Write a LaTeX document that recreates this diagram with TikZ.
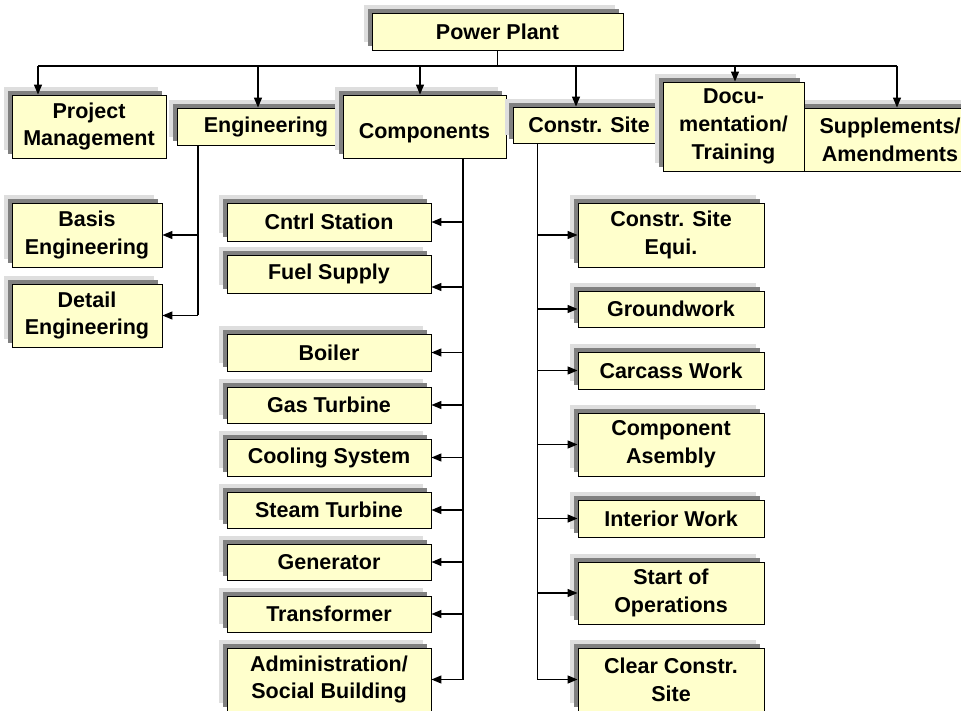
\documentclass[tikz,border=0pt]{standalone}
\usepackage{fontspec}
\setmainfont{Liberation Sans}
\usetikzlibrary{arrows.meta,shadows}

\definecolor{boxfill}{RGB}{255,255,204}
\definecolor{shadowdark}{RGB}{128,128,128}
\definecolor{shadowlight}{RGB}{222,222,222}

\tikzset{
  wbsbox/.style={rectangle, draw=black, line width=0.9pt, fill=boxfill, inner sep=0pt, align=center,
    font=\fontsize{21.5}{27.7}\selectfont\bfseries,
    general shadow={fill=shadowlight, shadow xshift=-8pt, shadow yshift=8pt},
    general shadow={fill=shadowdark, shadow xshift=-4pt, shadow yshift=4pt}},
  arr/.style={-{Triangle[length=10pt,width=8pt]}, line width=1.3pt},
  trunk/.style={line width=1.3pt}
}

\begin{document}
\begin{tikzpicture}[x=1pt,y=-1pt]
  \useasboundingbox (0,0) rectangle (961,711);
  \clip (0,0) rectangle (961,711);

  % top level
  \node[wbsbox, minimum width=251pt, minimum height=37pt] (plant) at (497.5,31.5) {Power Plant};
  \node[wbsbox, minimum width=154pt, minimum height=63pt] (pm) at (89,126.5) {Project\\Management};
  \node[wbsbox, minimum width=178pt, minimum height=37pt] (eng) at (266,126.5) {Engineering};
  \node[wbsbox, minimum width=163pt, minimum height=63pt] (comp) at (424.5,126.5) {\mbox{}\\Components};
  \node[wbsbox, minimum width=152pt, minimum height=36pt] (site) at (589,125) {Constr. Site};
  \node[wbsbox, minimum width=181pt, minimum height=63pt] (supp) at (890,139.5) {Supplements/\\Amendments};
  \node[wbsbox, minimum width=141pt, minimum height=89pt] (doc) at (733.5,126.5) {Docu-\\mentation/\\Training};

  \draw[trunk] (plant.south) -- (497.5,66);
  \draw[trunk] (38,66) -- (897,66);
  \draw[arr] (38,66) -- (38,0 |- pm.north);
  \draw[arr] (258,66) -- (258,0 |- eng.north);
  \draw[arr] (420,66) -- (420,0 |- comp.north);
  \draw[arr] (576,66) -- (576,0 |- site.north);
  \draw[arr] (735,66) -- (735,0 |- doc.north);
  \draw[arr] (897,66) -- (897,0 |- supp.north);

  % engineering
  \node[wbsbox, minimum width=150pt, minimum height=64pt] (basis) at (87,235) {Basis\\Engineering};
  \node[wbsbox, minimum width=150pt, minimum height=63pt] (detail) at (87,315.5) {Detail\\Engineering};
  \draw[trunk] (198,0 |- eng.south) -- (198,0 |- detail.east);
  \foreach \n in {basis,detail} \draw[arr] (198,0 |- \n.east) -- (\n.east);

  % components
  \node[wbsbox, minimum width=204pt, minimum height=38pt] (cntrl) at (329,222) {Cntrl Station};
  \node[wbsbox, minimum width=204pt, minimum height=38pt] (fuel) at (329,274) {Fuel Supply};
  \node[wbsbox, minimum width=204pt, minimum height=37pt] (boiler) at (329,352.5) {Boiler};
  \node[wbsbox, minimum width=204pt, minimum height=36pt] (gas) at (329,405) {Gas Turbine};
  \node[wbsbox, minimum width=204pt, minimum height=37pt] (cool) at (329,457.5) {Cooling System};
  \node[wbsbox, minimum width=204pt, minimum height=36pt] (steam) at (329,510) {Steam Turbine};
  \node[wbsbox, minimum width=204pt, minimum height=36pt] (gen) at (329,562) {Generator};
  \node[wbsbox, minimum width=204pt, minimum height=36pt] (trafo) at (329,614) {Transformer};
  \node[wbsbox, minimum width=204pt, minimum height=63pt] (admin) at (329,679.5) {Administration/\\Social Building};
  \draw[trunk] (463,0 |- comp.south) -- (463,0 |- admin.east);
  \foreach \n in {cntrl,boiler,gas,cool,steam,gen,trafo,admin} \draw[arr] (463,0 |- \n.east) -- (\n.east);
  \draw[arr] (463,287) -- (fuel.east |- 0,287);

  % construction site
  \node[wbsbox, minimum width=186pt, minimum height=64pt] (equi) at (671,235) {Constr. Site\\Equi.};
  \node[wbsbox, minimum width=186pt, minimum height=36pt] (ground) at (671,309) {Groundwork};
  \node[wbsbox, minimum width=186pt, minimum height=37pt] (carcass) at (671,370.5) {Carcass Work};
  \node[wbsbox, minimum width=186pt, minimum height=63pt] (asm) at (671,444.5) {Component\\Asembly};
  \node[wbsbox, minimum width=186pt, minimum height=37pt] (interior) at (671,518.5) {Interior Work};
  \node[wbsbox, minimum width=186pt, minimum height=62pt] (start) at (671,593) {Start of\\Operations};
  \node[wbsbox, minimum width=186pt, minimum height=63pt] (clear) at (671,679.5) {Clear Constr.\\Site};
  \draw[trunk] (537.5,0 |- site.south) -- (537.5,0 |- clear.west);
  \foreach \n in {equi,ground,carcass,asm,interior,start,clear} \draw[arr] (537.5,0 |- \n.west) -- (\n.west);

\end{tikzpicture}
\end{document}
